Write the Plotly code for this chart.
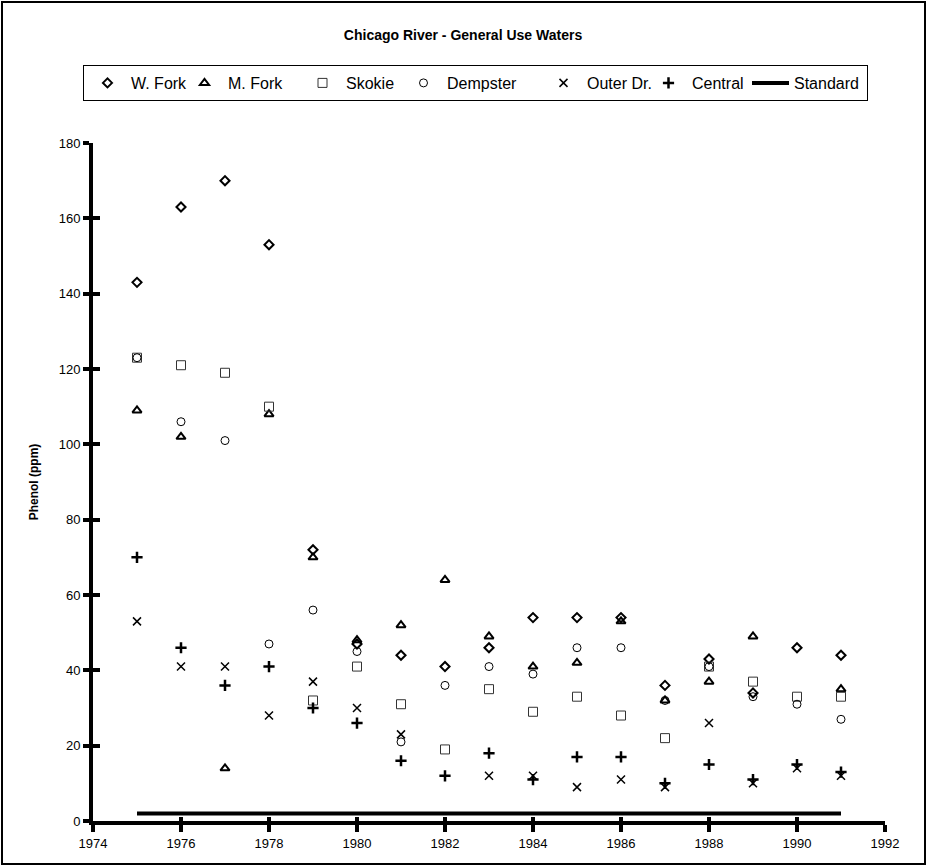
import plotly.graph_objects as go

# Sampling years and phenol concentrations (ppm) at each station
years = [1975, 1976, 1977, 1978, 1979, 1980, 1981, 1982, 1983,
         1984, 1985, 1986, 1987, 1988, 1989, 1990, 1991]

w_fork = [143, 163, 170, 153, 72, 47, 44, 41, 46, 54, 54, 54, 36, 43, 34, 46, 44]
m_fork = [109, 102, 14, 108, 70, 48, 52, 64, 49, 41, 42, 53, 32, 37, 49, None, 35]
skokie = [123, 121, 119, 110, 32, 41, 31, 19, 35, 29, 33, 28, 22, 41, 37, 33, 33]
dempster = [123, 106, 101, 47, 56, 45, 21, 36, 41, 39, 46, 46, 32, 41, 33, 31, 27]
outer_dr = [53, 41, 41, 28, 37, 30, 23, None, 12, 12, 9, 11, 9, 26, 10, 14, 12]
central = [70, 46, 36, 41, 30, 26, 16, 12, 18, 11, 17, 17, 10, 15, 11, 15, 13]
standard = [2] * len(years)

x_ticks = list(range(1974, 1993, 2))
y_ticks = list(range(0, 181, 20))

FONT = "Liberation Sans, Arial, sans-serif"

# name, values, symbol, size, outline width, colour, legend entry width
series = [
    ("W. Fork", w_fork, "diamond-open", 7, 2.0, "black", 45),
    ("M. Fork", m_fork, "triangle-up-open", 8, 2.0, "black", 66),
    ("Skokie", skokie, "square-open", 9, 1.0, "#333333", 49),
    ("Dempster", dempster, "circle-open", 8, 1.0, "black", 88),
    ("Outer Dr.", outer_dr, "x-thin-open", 8, 1.5, "black", 53),
    ("Central", central, "cross-thin-open", 8, 2.5, "black", 50),
]

fig = go.Figure()
for name, vals, sym, size, lw, col, lgw in series:
    fig.add_trace(go.Scatter(
        x=years, y=vals, name=name, mode="markers",
        marker=dict(symbol=sym, size=size, color=col,
                    line=dict(color=col, width=lw)),
        legendwidth=lgw,
    ))

fig.add_trace(go.Scatter(
    x=years, y=standard, name="Standard", mode="lines",
    line=dict(color="black", width=4),
    xaxis="x2", yaxis="y2", legendwidth=68,
))

W, H = 927, 867
L, R, T, B = 93, 885, 143, 821
pw, ph = R - L, B - T


def px(xp):
    return (xp - L) / pw


def py(yp):
    return (B - yp) / ph


axis_common = dict(showgrid=False, zeroline=False, color="black",
                   tickfont=dict(family=FONT, size=13, color="black"))

fig.update_layout(
    width=W, height=H,
    margin=dict(l=L, r=W - R, t=T, b=H - B, pad=0),
    paper_bgcolor="white", plot_bgcolor="white",
    font=dict(family=FONT, color="black"),
    title=dict(text="<b>Chicago River - General Use Waters</b>",
               font=dict(family=FONT, size=14, color="black"),
               x=463 / W, xanchor="center", xref="container",
               y=1 - 35 / H, yanchor="middle", yref="container"),
    xaxis=dict(range=[1974, 1992], tickvals=x_ticks, ticktext=[str(v) for v in x_ticks],
               showline=True, linewidth=4, linecolor="black",
               ticks="outside", ticklen=7, tickwidth=4, tickcolor="black",
               **axis_common),
    yaxis=dict(range=[0, 180], tickvals=y_ticks, ticktext=[str(v) for v in y_ticks],
               showline=True, linewidth=4, linecolor="black",
               ticks="outside", ticklen=6, tickwidth=4, tickcolor="black",
               title=dict(text="<b>Phenol (ppm)</b>", standoff=18,
                          font=dict(family=FONT, size=12, color="black")),
               **axis_common),
    xaxis2=dict(range=[1974, 1992], tickvals=x_ticks, overlaying="x", anchor="y",
                showline=False, showticklabels=False,
                ticks="inside", ticklen=4, tickwidth=4, tickcolor="black",
                showgrid=False, zeroline=False),
    yaxis2=dict(range=[0, 180], tickvals=y_ticks, overlaying="y", anchor="x",
                showline=False, showticklabels=False,
                ticks="inside", ticklen=7, tickwidth=4, tickcolor="black",
                showgrid=False, zeroline=False),
    legend=dict(orientation="h", x=px(83), xanchor="left",
                y=py(65), yanchor="top",
                bordercolor="black", borderwidth=1, bgcolor="white",
                font=dict(family=FONT, size=16, color="black"),
                itemwidth=37, traceorder="normal"),
    showlegend=True,
)

# Frame around the whole chart
fig.add_shape(type="rect", xref="paper", yref="paper",
              x0=px(2), x1=px(925), y0=py(864), y1=py(2),
              line=dict(color="black", width=2), fillcolor="rgba(0,0,0,0)",
              layer="below")

fig.write_html("out.html")
